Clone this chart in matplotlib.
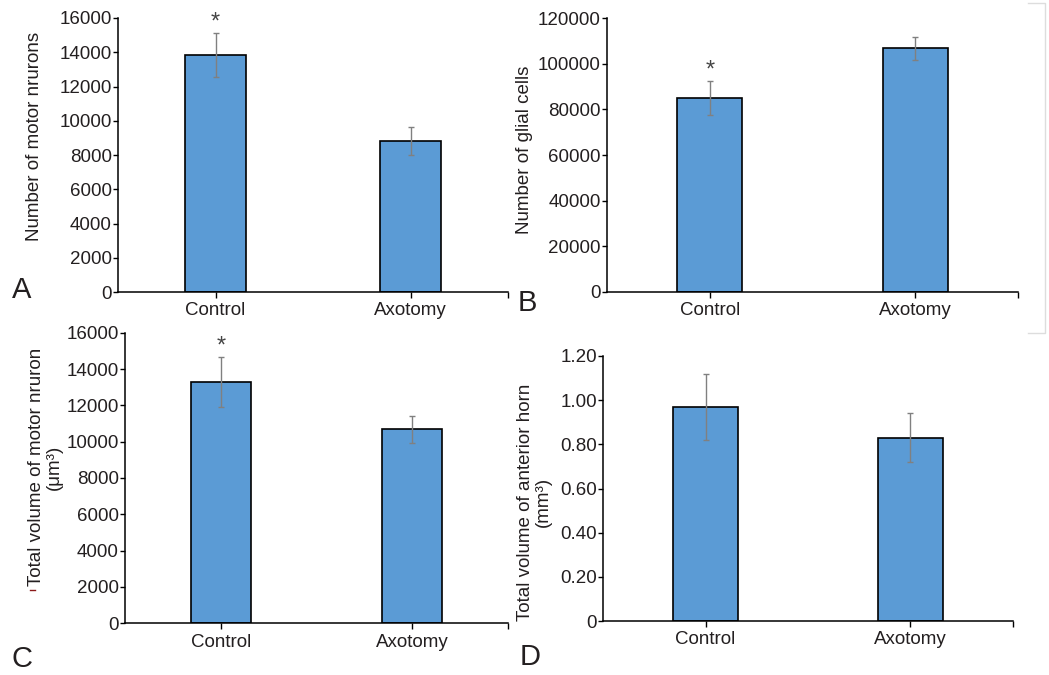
import numpy as np
import matplotlib
matplotlib.use("Agg")
import matplotlib.pyplot as plt
from matplotlib.lines import Line2D
from matplotlib.ticker import FixedLocator, FuncFormatter

plt.rcParams['font.family'] = ['Liberation Sans', 'DejaVu Sans']

# data
groups = ['Control', 'Axotomy']

neurons_mean = [13850, 8830]
neurons_err = [1270, 830]

glial_mean = [85000, 106800]
glial_err = [7500, 5100]

neuron_vol_mean = [13300, 10680]
neuron_vol_err = [1380, 735]

horn_vol_mean = [0.97, 0.83]
horn_vol_err = [0.15, 0.11]

# which bars get a significance star
stars_A = [True, False]
stars_B = [True, False]
stars_C = [True, False]
stars_D = [False, False]

W, H = 1049, 675
fig = plt.figure(figsize=(W / 100, H / 100), dpi=100)

BAR_COLOR = '#5b9bd5'
TXT = '#231f20'
FS = 13.5


def px_axes(x0, y0, x1, y1):
    # pixel box (left, top, right, bottom) -> figure fraction
    return fig.add_axes([x0 / W, 1 - y1 / H, (x1 - x0) / W, (y1 - y0) / H])


def panel(ax, means, errs, stars, ymax, ystep, fmt):
    x = np.arange(len(groups)) + 0.5
    ax.bar(x, means, width=0.315, color=BAR_COLOR, edgecolor='black',
           linewidth=1.2, zorder=2)
    ax.errorbar(x, means, yerr=errs, fmt='none', ecolor='#808080',
                elinewidth=1.0, capsize=2.5, capthick=1.0, zorder=3)
    for xi, m, e, s in zip(x, means, errs, stars):
        if s:
            ax.annotate('*', xy=(xi, m + e), xytext=(0, 3),
                        textcoords='offset points', ha='center',
                        va='baseline', fontsize=17, color='#444444')
    ax.set_xlim(0, len(groups))
    ax.set_ylim(0, ymax)
    ax.xaxis.set_major_locator(FixedLocator(list(x) + [len(groups)]))
    ax.set_xticklabels(groups + [''])
    ax.yaxis.set_major_locator(FixedLocator(np.arange(0, ymax + ystep / 2, ystep)))
    ax.yaxis.set_major_formatter(FuncFormatter(fmt))
    for sp in ['top', 'right']:
        ax.spines[sp].set_visible(False)
    for sp in ['left', 'bottom']:
        ax.spines[sp].set_linewidth(1.1)
        ax.spines[sp].set_color('black')
    ax.tick_params(axis='y', direction='out', length=3.5, width=1.0,
                   labelsize=FS, labelcolor=TXT, pad=1)
    ax.tick_params(axis='x', direction='out', length=4.5, width=1.0,
                   labelsize=FS, labelcolor=TXT, pad=3)
    ax.patch.set_alpha(0)


int_fmt = lambda v, p: '%d' % round(v)
dec_fmt = lambda v, p: '0' if v == 0 else '%.2f' % v

axA = px_axes(118, 18, 508, 292)
panel(axA, neurons_mean, neurons_err, stars_A, 16000, 2000, int_fmt)

axB = px_axes(607, 18.3, 1018, 291.7)
panel(axB, glial_mean, glial_err, stars_B, 120000, 20000, int_fmt)

axC = px_axes(125, 332.7, 508, 623.3)
panel(axC, neuron_vol_mean, neuron_vol_err, stars_C, 16000, 2000, int_fmt)

axD = px_axes(603, 356, 1013, 621)
panel(axD, horn_vol_mean, horn_vol_err, stars_D, 1.2, 0.2, dec_fmt)

# y labels
fig.text(35 / W, 1 - 136 / H, 'Number of motor nrurons', rotation=90,
         ha='center', va='center', fontsize=FS, color=TXT)
fig.text(524.5 / W, 1 - 150 / H, 'Number of glial cells', rotation=90,
         ha='center', va='center', fontsize=FS, color=TXT)
fig.text(45.5 / W, 1 - 467 / H, 'Total volume of motor nruron\n(μm³)',
         rotation=90, ha='center', va='center', multialignment='center',
         fontsize=FS, color=TXT, linespacing=1.0)
fig.text(534.5 / W, 1 - 502 / H, 'Total volume of anterior horn\n(mm³)',
         rotation=90, ha='center', va='center', multialignment='center',
         fontsize=FS, color=TXT, linespacing=1.0)

# panel letters
for lab, (cx, cy) in zip('ABCD', [(22, 290), (527, 303), (22, 659), (530, 657)]):
    fig.text(cx / W, 1 - cy / H, lab, ha='center', va='center',
             fontsize=21, color=TXT)

# small stray marks in the source image
fig.add_artist(Line2D([30 / W, 35 / W], [1 - 590 / H, 1 - 590 / H],
                      color='#8b1a1a', lw=1.0))
fig.add_artist(Line2D([1028 / W, 1045 / W, 1045 / W, 1028 / W],
                      [1 - 3 / H, 1 - 3 / H, 1 - 333 / H, 1 - 333 / H],
                      color='#dddddd', lw=1.0))

fig.savefig('out.png', dpi=100, facecolor='white')
